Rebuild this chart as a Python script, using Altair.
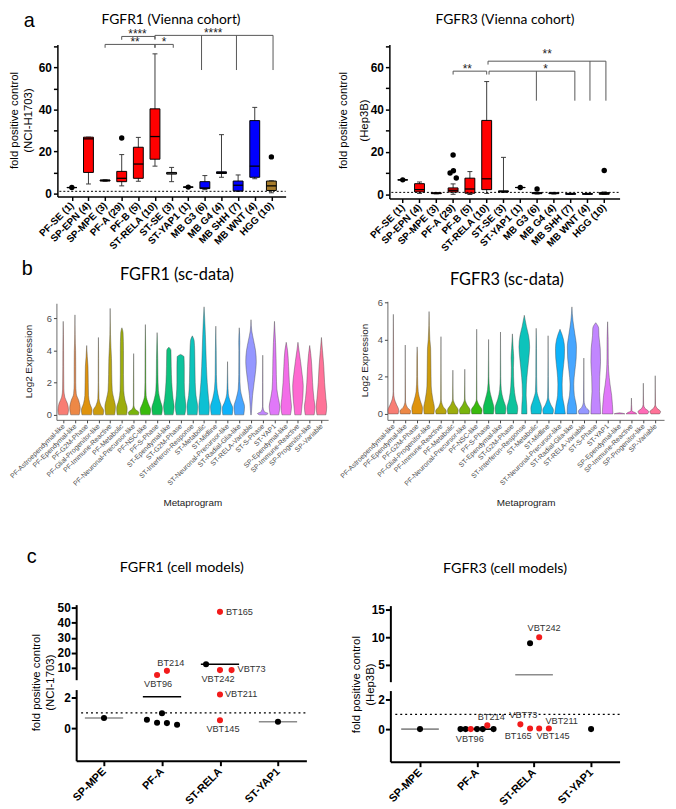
import json
import math
import altair as alt
import pandas as pd

SANS = "Liberation Sans"
HEAD = "Lato"
RED = "#f21b1b"
W, H = 668, 801  # drawing canvas (page minus the 8px margin)

# ---------------- panel a : Vienna cohort ----------------
a_cats = ["PF-SE (1)", "SP-EPN (4)", "SP-MPE (3)", "PF-A (29)", "PF-B (5)", "ST-RELA (10)",
          "ST-SE (3)", "ST-YAP1 (1)", "MB G3 (6)", "MB G4 (4)", "MB SHH (7)", "MB WNT (4)", "HGG (10)"]
a_group = ["EPN", "EPN", "EPN", "EPN", "EPN", "EPN", "SE", "EPN", "MB", "MB", "MB", "MB", "HGG"]

f1_lo = [2.8, 4.5, 5.8, 3.6, 5.8, 13.0, 5.6, 3.0, 1.8, 7.7, 0.9, 7.0, 0.3]
f1_q1 = [2.8, 10.0, 5.9, 5.6, 7.2, 16.3, 9.2, 3.0, 2.3, 9.5, 1.2, 7.7, 1.4]
f1_med = [2.8, 26.0, 6.2, 7.2, 14.0, 27.1, 9.7, 3.0, 2.6, 9.9, 3.9, 13.0, 3.6]
f1_q3 = [2.8, 26.8, 6.4, 10.5, 22.0, 40.3, 10.0, 3.0, 5.6, 10.3, 5.9, 34.7, 5.9]
f1_hi = [2.8, 26.8, 6.5, 18.5, 26.7, 66.5, 12.4, 3.0, 8.5, 28.0, 8.8, 41.0, 6.0]
f1_out_i = [0, 3, 7, 12]
f1_out_j = [0, 0, 0, 0]
f1_out_v = [2.8, 26.4, 3.0, 17.4]
f1_br_x1 = [3, 2, 5, 5]
f1_br_x2 = [5, 5, 6.1, 12.1]
f1_br_y = [74.8, 71.0, 71.0, 75.3]
f1_br_text = ["****", "**", "*", "****"]
f1_br_tx = [3.95, 3.8, 5.55, 8.5]
f1_br_ty = [74.8, 71.0, 71.0, 75.3]
f1_br_drops = [[], [], [], [7.8, 9.9, 12.1]]
f1_drop_to = 58.8

f3_lo = [6.9, 0.5, 0.3, 0.1, 0.0, 0.5, 1.0, 3.3, 0.2, 0.2, 0.0, 0.0, 0.0]
f3_q1 = [6.9, 1.2, 0.4, 1.2, 0.6, 2.3, 1.2, 3.3, 0.4, 0.4, 0.1, 0.1, 0.1]
f3_med = [6.9, 2.3, 0.6, 2.0, 2.6, 7.4, 1.5, 3.3, 0.6, 0.6, 0.3, 0.3, 0.5]
f3_q3 = [6.9, 5.1, 0.8, 3.1, 7.7, 34.9, 1.7, 3.3, 0.9, 0.8, 0.5, 0.5, 0.9]
f3_hi = [6.9, 5.9, 0.9, 5.0, 10.8, 53.2, 17.5, 3.3, 1.0, 1.0, 0.6, 0.6, 1.2]
f3_out_i = [0, 3, 3, 3, 3, 7, 8, 12]
f3_out_j = [0, 0, -0.18, 0.02, 0.19, 0, 0, 0]
f3_out_v = [6.9, 18.6, 10.1, 11.2, 7.8, 3.3, 2.6, 11.3]
f3_br_x1 = [3, 5.14, 5.08]
f3_br_x2 = [5, 10.25, 12.1]
f3_br_y = [58.1, 58.1, 62.8]
f3_br_text = ["**", "*", "**"]
f3_br_tx = [3.85, 8.5, 8.6]
f3_br_ty = [58.1, 58.1, 65.0]
f3_br_drops = [[], [7.96, 10.25], [11.15, 12.1]]
f3_drop_to = 44.2

# ---------------- panel b : sc-data violins ----------------
v_cats = ["PF-Astroependymal-like", "PF-Ependymal-like", "PF-G2M-Phase", "PF-Glial-Progenitor-like",
          "PF-Immune-Reactive", "PF-Metabolic", "PF-Neuronal-Precursor-like", "PF-NSC-like", "PF-S-Phase",
          "ST-Ependymal-like", "ST-G2M-Phase", "ST-Interferon-Response", "ST-Metabolic", "ST-Midline",
          "ST-Neuronal-Precursor-like", "ST-Radial-Glia-like", "ST-RELA-Variable", "ST-S-Phase", "ST-YAP1",
          "SP-Ependymal-like", "SP-Immune-Reactive", "SP-Progenitor-like", "SP-Variable"]

# (expression level, relative half width) pairs for each violin
fgfr1_violins = [
    [(0, 0.85), (0.3, 1), (0.7, 0.8), (1.1, 0.3), (1.6, 0.12), (3, 0.08), (4, 0.07), (5, 0.04), (5.8, 0)],
    [(0, 0.8), (0.4, 1), (0.9, 0.7), (1.3, 0.25), (2, 0.15), (3, 0.15), (4, 0.12), (4.4, 0.08), (5, 0.04), (6.2, 0)],
    [(0, 0.9), (0.3, 1), (0.7, 0.6), (1.2, 0.35), (2, 0.3), (3, 0.25), (3.6, 0.12), (4.3, 0)],
    [(0, 0.9), (0.25, 1), (0.6, 0.45), (1, 0.12), (2, 0.05), (3.5, 0.04), (4.8, 0)],
    [(0, 0.85), (0.5, 1), (1.0, 0.7), (1.5, 0.4), (2.5, 0.3), (3.5, 0.25), (4.2, 0.15), (5, 0.06), (6.6, 0)],
    [(0, 0.9), (0.4, 1), (0.9, 0.6), (1.5, 0.35), (2.5, 0.3), (4, 0.3), (5.1, 0.22), (5.4, 0)],
    [(0, 0.9), (0.15, 1), (0.35, 0.3), (0.6, 0.05), (2, 0.04), (3.8, 0)],
    [(0, 0.85), (0.3, 1), (0.7, 0.55), (1.2, 0.15), (2, 0.08), (4, 0.06), (5.6, 0)],
    [(0, 0.85), (0.4, 1), (0.9, 0.6), (1.5, 0.25), (2.5, 0.15), (3.5, 0.12), (5.1, 0)],
    [(0, 0.8), (0.5, 1), (1, 0.8), (2, 0.55), (3, 0.45), (4, 0.4), (4.2, 0)],
    [(0, 0.8), (0.5, 1), (1.2, 0.8), (2, 0.7), (3, 0.7), (3.6, 0.65), (3.75, 0)],
    [(0, 0.9), (0.5, 1), (1.2, 0.7), (2, 0.55), (3, 0.5), (4, 0.45), (4.6, 0.35), (4.9, 0)],
    [(0, 0.9), (0.5, 1), (1, 0.85), (2, 0.6), (3, 0.45), (4, 0.35), (5, 0.25), (6, 0.12), (6.7, 0)],
    [(0, 0.85), (0.5, 1), (1.0, 0.6), (1.6, 0.25), (2.5, 0.12), (4, 0.08), (5.5, 0)],
    [(0, 0.9), (0.4, 1), (0.8, 0.55), (1.3, 0.15), (2, 0.06), (3.3, 0)],
    [(0, 0.85), (0.5, 1), (1.0, 0.6), (1.6, 0.2), (2.5, 0.1), (4, 0.08), (4.5, 0.1), (5.4, 0)],
    [(0, 0.05), (0.5, 0.15), (1.2, 0.3), (2, 0.6), (2.8, 0.9), (3.3, 1.0), (4, 0.85), (4.6, 0.5), (5.2, 0.15), (5.9, 0)],
    [(0, 0.6), (0.08, 1), (0.2, 0.3), (0.5, 0.04), (2, 0.03), (3.7, 0)],
    [(0, 0.8), (0.5, 1), (1, 0.75), (1.6, 0.45), (2.5, 0.35), (3.5, 0.3), (4.5, 0.2), (5.8, 0)],
    [(0, 0.8), (0.5, 1), (1, 0.85), (2, 0.6), (3, 0.45), (4, 0.25), (4.5, 0)],
    [(0, 0.6), (0.5, 0.75), (1.2, 0.95), (1.8, 1.0), (2.5, 0.8), (3.3, 0.5), (4, 0.2), (4.5, 0)],
    [(0, 0.85), (0.5, 1), (1, 0.8), (2, 0.55), (3, 0.4), (3.8, 0.2), (4.3, 0)],
    [(0, 0.85), (0.5, 1), (1.0, 0.85), (2, 0.6), (3, 0.45), (4, 0.2), (4.8, 0)],
]
fgfr3_violins = [
    [(0, 0.9), (0.2, 1), (0.5, 0.6), (0.8, 0.2), (1.2, 0.05), (3.6, 0.04), (5.35, 0)],
    [(0, 0.9), (0.15, 1), (0.35, 0.4), (0.7, 0.05), (3.7, 0)],
    [(0, 0.9), (0.3, 1), (0.7, 0.6), (1.2, 0.2), (2, 0.08), (3, 0.06), (3.6, 0)],
    [(0, 0.9), (0.3, 1), (0.8, 0.7), (1.5, 0.4), (2.5, 0.35), (3.5, 0.3), (4, 0.15), (5.5, 0)],
    [(0, 0.9), (0.15, 1), (0.4, 0.4), (0.8, 0.06), (4.15, 0)],
    [(0, 0.9), (0.2, 1), (0.5, 0.4), (0.8, 0.06), (2.35, 0)],
    [(0, 0.9), (0.2, 1), (0.5, 0.4), (0.8, 0.06), (2.4, 0)],
    [(0, 0.9), (0.2, 1), (0.5, 0.4), (0.8, 0.05), (4.55, 0)],
    [(0, 0.9), (0.3, 1), (0.8, 0.6), (1.3, 0.2), (2, 0.06), (4.0, 0)],
    [(0, 0.9), (0.3, 1), (0.8, 0.5), (1.3, 0.15), (2, 0.05), (4.4, 0)],
    [(0, 0.9), (0.3, 1), (0.8, 0.6), (1.5, 0.3), (2.5, 0.2), (3, 0.25), (3.5, 0.15), (4.3, 0)],
    [(0, 0.5), (0.5, 0.45), (1, 0.35), (1.6, 0.4), (2.3, 0.6), (3, 0.85), (3.6, 1.0), (4.2, 0.8), (4.7, 0.4), (5.3, 0)],
    [(0, 0.9), (0.3, 1), (0.8, 0.5), (1.2, 0.15), (2, 0.08), (3.5, 0.06), (4.6, 0)],
    [(0, 0.9), (0.2, 1), (0.5, 0.5), (0.9, 0.1), (2, 0.04), (4.2, 0)],
    [(0, 1.0), (0.5, 0.75), (1, 0.45), (1.6, 0.4), (2.3, 0.55), (3, 0.8), (3.5, 0.85), (4, 0.65), (4.55, 0)],
    [(0, 0.9), (0.4, 0.85), (1, 0.45), (1.6, 0.35), (2.3, 0.55), (3, 0.8), (3.6, 0.85), (4.3, 0.55), (5, 0.2), (5.75, 0)],
    [(0, 0.9), (0.15, 1), (0.35, 0.4), (0.7, 0.06), (3.0, 0)],
    [(0, 0.9), (0.5, 0.85), (1.2, 0.7), (2, 0.75), (2.8, 0.9), (3.5, 0.85), (4.2, 0.6), (4.6, 0.55), (4.9, 0)],
    [(0, 1.0), (0.5, 0.9), (1.0, 0.75), (1.6, 0.45), (2.3, 0.2), (3, 0.12), (4, 0.1), (4.95, 0)],
    [(0, 1), (0.04, 0.5), (0.06, 0)],
    [(0, 1), (0.07, 0.7), (0.15, 0.1), (0.85, 0)],
    [(0, 0.8), (0.12, 1), (0.3, 0.3), (0.5, 0.05), (1.65, 0)],
    [(0, 0.8), (0.12, 1), (0.3, 0.35), (0.5, 0.05), (2.05, 0)],
]

# ---------------- panel c : cell models ----------------
c_cats = ["SP-MPE", "PF-A", "ST-RELA", "ST-YAP1"]

c1_cat = [0, 1, 1, 1, 1, 1, 1, 1, 2, 2, 2, 2, 2, 2, 3]
c1_jit = [0, -0.26, -0.085, 0, 0.085, 0.26, -0.085, 0.085, -0.24, 0, 0, 0.2, 0, 0, 0]
c1_val = [0.66, 0.55, 0.35, 0.97, 0.33, 0.22, 5.2, 8.0, 12.4, 47.2, 8.5, 8.5, 2.2, 0.52, 0.42]
c1_lab = ["", "", "", "", "", "", "VBT96", "BT214", "", "BT165", "VBT242", "VBT73", "VBT211", "VBT145", ""]
c1_mean_cat = [0, 1, 2, 3]
c1_mean_val = [0.66, 2.05, 12.4, 0.42]
c1_mean_kind = ["single", "mean", "mean", "single"]

c3_cat = [0, 1, 1, 1, 1, 1, 1, 1, 2, 2, 2, 2, 2, 2, 3]
c3_jit = [0, -0.29, -0.2, 0, 0.1, 0.29, -0.11, 0.18, -0.07, 0.09, -0.24, -0.07, 0.09, 0.26, 0]
c3_val = [0.0, 0.0, 0.0, 0.0, 0.0, 0.0, 0.0, 0.25, 8.9, 10.0, 0.32, 0.04, 0.04, 0.04, 0.0]
c3_lab = ["", "", "", "", "", "", "VBT96", "BT214", "", "VBT242", "VBT73", "BT165", "VBT145", "VBT211", ""]
c3_mean_cat = [0, 1, 2]
c3_mean_val = [0.0, 0.0, 3.2]
c3_mean_kind = ["single", "mean", "single"]

c1_label_style = {"BT165": ("left", 6, 0), "BT214": ("center", 4, -8), "VBT96": ("center", 1, 9),
                  "VBT242": ("center", -2, 9), "VBT73": ("left", 6, -1), "VBT211": ("left", 5, 0),
                  "VBT145": ("center", 3, 9)}
c3_label_style = {"VBT242": ("center", 5, -9), "BT214": ("center", 4, -8), "VBT73": ("center", 3, -9),
                  "VBT211": ("center", 13, -8), "VBT96": ("center", -1, 10), "BT165": ("center", -12, 8),
                  "VBT145": ("center", 14, 8)}


def hcl_hex(h, c=100.0, l=65.0):
    hr = math.radians(h)
    U, V = c * math.cos(hr), c * math.sin(hr)
    Xn, Yn, Zn = 95.047, 100.0, 108.883
    Y = Yn * ((l + 16) / 116) ** 3
    t = Xn + 15 * Yn + 3 * Zn
    un, vn = 4 * Xn / t, 9 * Yn / t
    u, v = U / (13 * l) + un, V / (13 * l) + vn
    X = 9.0 * Y * u / (4 * v)
    Z = -X / 3 - 5 * Y + 3 * Y / v
    X, Y, Z = X / 100, Y / 100, Z / 100
    rgb = (3.240479 * X - 1.537150 * Y - 0.498535 * Z,
           -0.969256 * X + 1.875992 * Y + 0.041556 * Z,
           0.055648 * X - 0.204043 * Y + 1.057311 * Z)

    def g(x):
        x = 12.92 * x if x <= 0.0031308 else 1.055 * x ** (1 / 2.4) - 0.055
        return max(0.0, min(1.0, x))
    return "#%02x%02x%02x" % tuple(int(round(255 * g(x))) for x in rgb)


HUES = [hcl_hex(15 + 360 * k / len(v_cats)) for k in range(len(v_cats))]


def names_expr(names):
    return "%s[round(datum.value)]" % json.dumps(names)


def frame(x0, x1, ytop, ybot):
    """Page pixel frame of one plot -> canvas ranges and axis offsets."""
    return dict(xr=[x0 - 8, x1 - 8], yr=[ybot - 8, ytop - 8],
                yoff=-(x0 - 8), xoff=-(H - (ybot - 8)))


def text_at(txt, x, y, size, font=SANS, align="center", baseline="alphabetic", angle=0, color="black"):
    return alt.Chart(pd.DataFrame({"t": [txt]})).mark_text(
        font=font, fontSize=size, align=align, baseline=baseline, angle=angle, color=color
    ).encode(text="t:N", x=alt.value(x - 8), y=alt.value(y - 8))


def box_panel(lo, q1, med, q3, hi, oi, oj, ov, bx1, bx2, by, btxt, btx, bty, bdrops, drop_to, tick_len,
              xdom, ydom, fr):
    xs = alt.Scale(domain=xdom, range=fr["xr"], nice=False, zero=False)
    ys = alt.Scale(domain=ydom, range=fr["yr"], nice=False, zero=False)
    xaxis = alt.Axis(orient="bottom", offset=fr["xoff"], values=list(range(len(a_cats))),
                     labelExpr=names_expr(a_cats), labelAngle=-45,
                     labelAlign="right", labelBaseline="middle", labelFont=SANS, labelFontWeight="bold",
                     labelFontSize=10, labelColor="black", labelPadding=3, labelFlush=False,
                     labelOverlap=False, labelBound=False, domainColor="black", domainWidth=1.5,
                     tickColor="black", tickWidth=1.5, tickSize=4, grid=False, title=None)
    yaxis = alt.Axis(orient="left", offset=fr["yoff"], values=list(range(0, 71, 10)),
                     labelExpr="datum.value % 20 == 0 ? datum.label : ''",
                     labelFont=SANS, labelFontWeight="bold", labelFontSize=12, labelColor="black",
                     labelPadding=2, labelFlush=False, domainColor="black", domainWidth=1.5,
                     tickColor="black", tickWidth=1.5, tickSize=4, grid=False, title=None)

    def X(f):
        return alt.X(f, type="quantitative", scale=xs, axis=xaxis)

    def Y(f):
        return alt.Y(f, type="quantitative", scale=ys, axis=yaxis)

    bdf = pd.DataFrame({"i": list(range(len(a_cats))), "lo": lo, "q1": q1, "med": med, "q3": q3,
                        "hi": hi, "grp": a_group})
    base = alt.Chart(bdf)
    whisk = base.mark_rule(color="#3a3a3a", strokeWidth=1).encode(x=X("i"), y=Y("lo"), y2="hi:Q")
    cap_lo = base.mark_tick(orient="horizontal", size=5, thickness=1, color="#3a3a3a", opacity=1).encode(x=X("i"), y=Y("lo"))
    cap_hi = base.mark_tick(orient="horizontal", size=5, thickness=1, color="#3a3a3a", opacity=1).encode(x=X("i"), y=Y("hi"))
    box = base.mark_bar(size=10, stroke="black", strokeWidth=1).encode(
        x=X("i"), y=Y("q1"), y2="q3:Q",
        color=alt.Color("grp:N", scale=alt.Scale(domain=["EPN", "MB", "HGG", "SE"],
                                                 range=["#ff0000", "#0000ff", "#a67c2c", "#ffffff"]), legend=None))
    medl = base.mark_tick(orient="horizontal", size=10, thickness=1.3, color="black", opacity=1).encode(x=X("i"), y=Y("med"))
    odf = pd.DataFrame({"i": oi, "j": oj, "v": ov})
    outl = alt.Chart(odf).transform_calculate(xp="datum.i + datum.j").mark_circle(
        size=30, color="black", opacity=1).encode(x=X("xp"), y=Y("v"))
    dotted = alt.Chart(pd.DataFrame({"ref": [1.0]})).mark_rule(
        strokeDash=[2, 2], color="black", strokeWidth=1).encode(
        y=Y("ref"), x=alt.value(fr["xr"][0] + 2), x2=alt.value(fr["xr"][1]))
    segs = []
    for x1, x2, yy, dr in zip(bx1, bx2, by, bdrops):
        segs.append({"xa": x1, "xb": x2, "ya": yy, "yb": yy})
        for e in (x1, x2):
            if e not in dr:
                segs.append({"xa": e, "xb": e, "ya": yy, "yb": yy - tick_len})
        for d in dr:
            segs.append({"xa": d, "xb": d, "ya": yy, "yb": drop_to})
    br = alt.Chart(pd.DataFrame(segs)).mark_rule(color="#555555", strokeWidth=1).encode(
        x=X("xa"), x2="xb:Q", y=Y("ya"), y2="yb:Q")
    brt = alt.Chart(pd.DataFrame({"x": btx, "y": bty, "t": btxt})).mark_text(
        font=SANS, fontSize=12, baseline="alphabetic", dy=2, color="#222222").encode(
        x=X("x"), y=Y("y"), text="t:N")
    return alt.layer(whisk, cap_lo, cap_hi, box, medl, outl, dotted, br, brt)


def violin_panel(profiles, xdom, ydom, fr):
    rows = []
    for i, prof in enumerate(profiles):
        for lv, wd in prof:
            rows.append({"i": i, "mp": v_cats[i], "lv": lv, "w": wd})
    df = pd.DataFrame(rows)
    xs = alt.Scale(domain=xdom, range=fr["xr"], nice=False, zero=False)
    ys = alt.Scale(domain=ydom, range=fr["yr"], nice=False, zero=False)
    xaxis = alt.Axis(orient="bottom", offset=fr["xoff"], values=list(range(len(v_cats))),
                     labelExpr=names_expr(v_cats), labelAngle=-45,
                     labelAlign="right", labelBaseline="middle", labelFont=SANS, labelFontSize=7.0,
                     labelColor="#4d4d4d", labelPadding=2, labelFlush=False, labelOverlap=False,
                     labelBound=False, domainColor="#444444", domainWidth=0.8, tickColor="#444444",
                     tickSize=3, grid=False, title="Metaprogram", titleFont=SANS, titleFontSize=10,
                     titleFontWeight="normal", titleColor="#222222", titlePadding=11)
    yaxis = alt.Axis(orient="left", offset=fr["yoff"], values=[0, 2, 4, 6], labelFont=SANS,
                     labelFontSize=9.5, labelColor="#4d4d4d",
                     labelPadding=2, domainColor="#444444", domainWidth=0.8, tickColor="#444444",
                     tickSize=3, grid=False, title=None)
    return alt.Chart(df).transform_calculate(
        xl="datum.i - 0.45 * datum.w", xr="datum.i + 0.45 * datum.w"
    ).mark_area(orient="horizontal", interpolate="monotone", stroke="#3c3c3c", strokeWidth=0.4,
                fillOpacity=0.95).encode(
        y=alt.Y("lv:Q", scale=ys, axis=yaxis),
        x=alt.X("xl:Q", scale=xs, axis=xaxis, stack=None),
        x2="xr:Q",
        color=alt.Color("mp:N", scale=alt.Scale(domain=v_cats, range=HUES), legend=None),
        detail="i:N")


def cell_panel(p_cat, p_jit, p_val, p_lab, m_cat, m_val, m_kind, lab_style, split, xdom, updom, lodom,
               upvals, fr_up, fr_lo):
    pts = pd.DataFrame({"cat": p_cat, "jit": p_jit, "v": p_val, "lab": p_lab})
    means = pd.DataFrame({"cat": m_cat, "v": m_val, "kind": m_kind})
    parts = []
    for upper in (True, False):
        fr = fr_up if upper else fr_lo
        xs = alt.Scale(domain=xdom, range=fr["xr"], nice=False, zero=False)
        ys = alt.Scale(domain=updom if upper else lodom, range=fr["yr"], nice=False, zero=False)
        cond = ("datum.v >= %s" if upper else "datum.v < %s") % split
        if upper:
            xaxis = None
            yaxis = alt.Axis(orient="left", offset=fr["yoff"], values=upvals, labelFont=SANS,
                             labelFontWeight="bold", labelFontSize=12,
                             labelColor="black", labelPadding=1, domainColor="black", domainWidth=2,
                             tickColor="black", tickWidth=2, tickSize=5, grid=False, title=None)
        else:
            xaxis = alt.Axis(orient="bottom", offset=fr["xoff"], values=[0, 1, 2, 3],
                             labelExpr=names_expr(c_cats), labelAngle=-45,
                             labelAlign="right", labelBaseline="middle", labelFont=SANS,
                             labelFontWeight="bold", labelFontSize=11, labelColor="black", labelPadding=4,
                             labelFlush=False, labelOverlap=False, labelBound=False, domainColor="black",
                             domainWidth=2, tickColor="black", tickWidth=2, tickSize=5, grid=False,
                             title=None)
            yaxis = alt.Axis(orient="left", offset=fr["yoff"], values=[0, 2], labelFont=SANS,
                             labelFontWeight="bold", labelFontSize=12,
                             labelColor="black", labelPadding=1, domainColor="black", domainWidth=2,
                             tickColor="black", tickWidth=2, tickSize=5, grid=False, title=None)

        def X(f, xaxis=xaxis, xs=xs):
            return alt.X(f, type="quantitative", scale=xs, axis=xaxis)
        Y = alt.Y("v:Q", scale=ys, axis=yaxis)
        layers = []
        for kind, col in (("mean", "black"), ("single", "#8c8c8c")):
            layers.append(alt.Chart(means).transform_filter(
                "datum.kind == '%s' && %s" % (kind, cond)).transform_calculate(
                xa="datum.cat - 0.33", xb="datum.cat + 0.33").mark_rule(
                strokeWidth=1.6, color=col).encode(x=X("xa"), x2="xb:Q", y=Y))
        if not upper:
            layers.append(alt.Chart(pd.DataFrame({"v": [1.0]})).mark_rule(
                strokeDash=[2, 3], color="black", strokeWidth=1.3).encode(
                y=Y, x=alt.value(fr["xr"][0] + 5), x2=alt.value(fr["xr"][1])))
        for test, col in (("datum.lab == ''", "black"), ("datum.lab != ''", RED)):
            layers.append(alt.Chart(pts).transform_filter("%s && %s" % (test, cond)).transform_calculate(
                xp="datum.cat + datum.jit").mark_circle(size=38, opacity=1, color=col).encode(
                x=X("xp"), y=Y))
        for name, (al, dx, dy) in lab_style.items():
            layers.append(alt.Chart(pts).transform_filter(
                "datum.lab == '%s' && %s" % (name, cond)).transform_calculate(
                xp="datum.cat + datum.jit").mark_text(
                font=SANS, fontSize=9.3, align=al, baseline="middle", dx=dx, dy=dy, color="#333333").encode(
                x=X("xp"), y=Y, text="lab:N"))
        parts.append(alt.layer(*layers))
    return parts


AY = 7  # row a moved down a little so its titles fit under the page margin
aL = box_panel(f1_lo, f1_q1, f1_med, f1_q3, f1_hi, f1_out_i, f1_out_j, f1_out_v,
               f1_br_x1, f1_br_x2, f1_br_y, f1_br_text, f1_br_tx, f1_br_ty, f1_br_drops, f1_drop_to, 1.6,
               [-0.57, 12.56], [-1.5, 71], frame(58, 289, 33 + AY, 187 + AY))
aR = box_panel(f3_lo, f3_q1, f3_med, f3_q3, f3_hi, f3_out_i, f3_out_j, f3_out_v,
               f3_br_x1, f3_br_x2, f3_br_y, f3_br_text, f3_br_tx, f3_br_ty, f3_br_drops, f3_drop_to, 1.6,
               [-0.5, 12.62], [-1.9, 70.7], frame(394, 627, 33 + AY, 189 + AY))
bL = violin_panel(fgfr1_violins, [-0.58, 22.57], [-0.31, 6.92], frame(57, 332, 302, 420))
bR = violin_panel(fgfr3_violins, [-0.5, 22.74], [-0.32, 6.05], frame(392, 672, 300, 420))
cLu, cLl = cell_panel(c1_cat, c1_jit, c1_val, c1_lab, c1_mean_cat, c1_mean_val, c1_mean_kind,
                      c1_label_style, 3, [-0.48, 3.49], [2.1, 52], [-2.13, 2.52], [10, 20, 30, 40, 50],
                      frame(77, 310, 607, 683), frame(77, 310, 693, 765))
cRu, cRl = cell_panel(c3_cat, c3_jit, c3_val, c3_lab, c3_mean_cat, c3_mean_val, c3_mean_kind,
                      c3_label_style, 2.5, [-0.52, 3.5], [1.96, 15.7], [-2.2, 2.6], [5, 10, 15],
                      frame(395, 627, 608, 685), frame(395, 627, 694, 766))

texts = [
    text_at("a", 24, 15 + AY, 20, align="left"),
    text_at("FGFR1 (Vienna cohort)", 173, 12 + AY, 14, font=HEAD),
    text_at("FGFR3 (Vienna cohort)", 511, 12 + AY, 14, font=HEAD),
    text_at("fold positive control", 15, 110 + AY, 11.5, baseline="middle", angle=270),
    text_at("(NCI-H1703)", 29, 110 + AY, 11.5, baseline="middle", angle=270),
    text_at("fold positive control", 348, 110 + AY, 11.5, baseline="middle", angle=270),
    text_at("(Hep3B)", 369, 110 + AY, 11.5, baseline="middle", angle=270),
    text_at("b", 22, 273, 20, align="left"),
    text_at("FGFR1 (sc-data)", 179, 278, 16.5, font=HEAD),
    text_at("FGFR3 (sc-data)", 513, 283, 16.5, font=HEAD),
    text_at("Log2 Expression", 29, 361, 10, baseline="middle", angle=270, color="#222222"),
    text_at("Log2 Expression", 369, 360, 10, baseline="middle", angle=270, color="#222222"),
    text_at("c", 27, 565, 20, align="left"),
    text_at("FGFR1 (cell models)", 184, 574, 14.5, font=HEAD),
    text_at("FGFR3 (cell models)", 511, 575, 14.5, font=HEAD),
    text_at("fold positive control", 37, 686, 11.5, baseline="middle", angle=270),
    text_at("(NCI-1703)", 52, 686, 11.5, baseline="middle", angle=270),
    text_at("fold positive control", 361, 688, 11.5, baseline="middle", angle=270),
    text_at("(Hep3B)", 375, 688, 11.5, baseline="middle", angle=270),
]

chart = alt.layer(aL, aR, bL, bR, cLu, cLl, cRu, cRl, *texts).resolve_scale(
    x="independent", y="independent", color="independent"
).resolve_axis(x="independent", y="independent").properties(
    width=W, height=H, padding=0, background="white",
    autosize=alt.AutoSizeParams(type="none")
).configure_view(stroke=None)

chart.save("out.html", embed_options={"renderer": "svg", "actions": False})
